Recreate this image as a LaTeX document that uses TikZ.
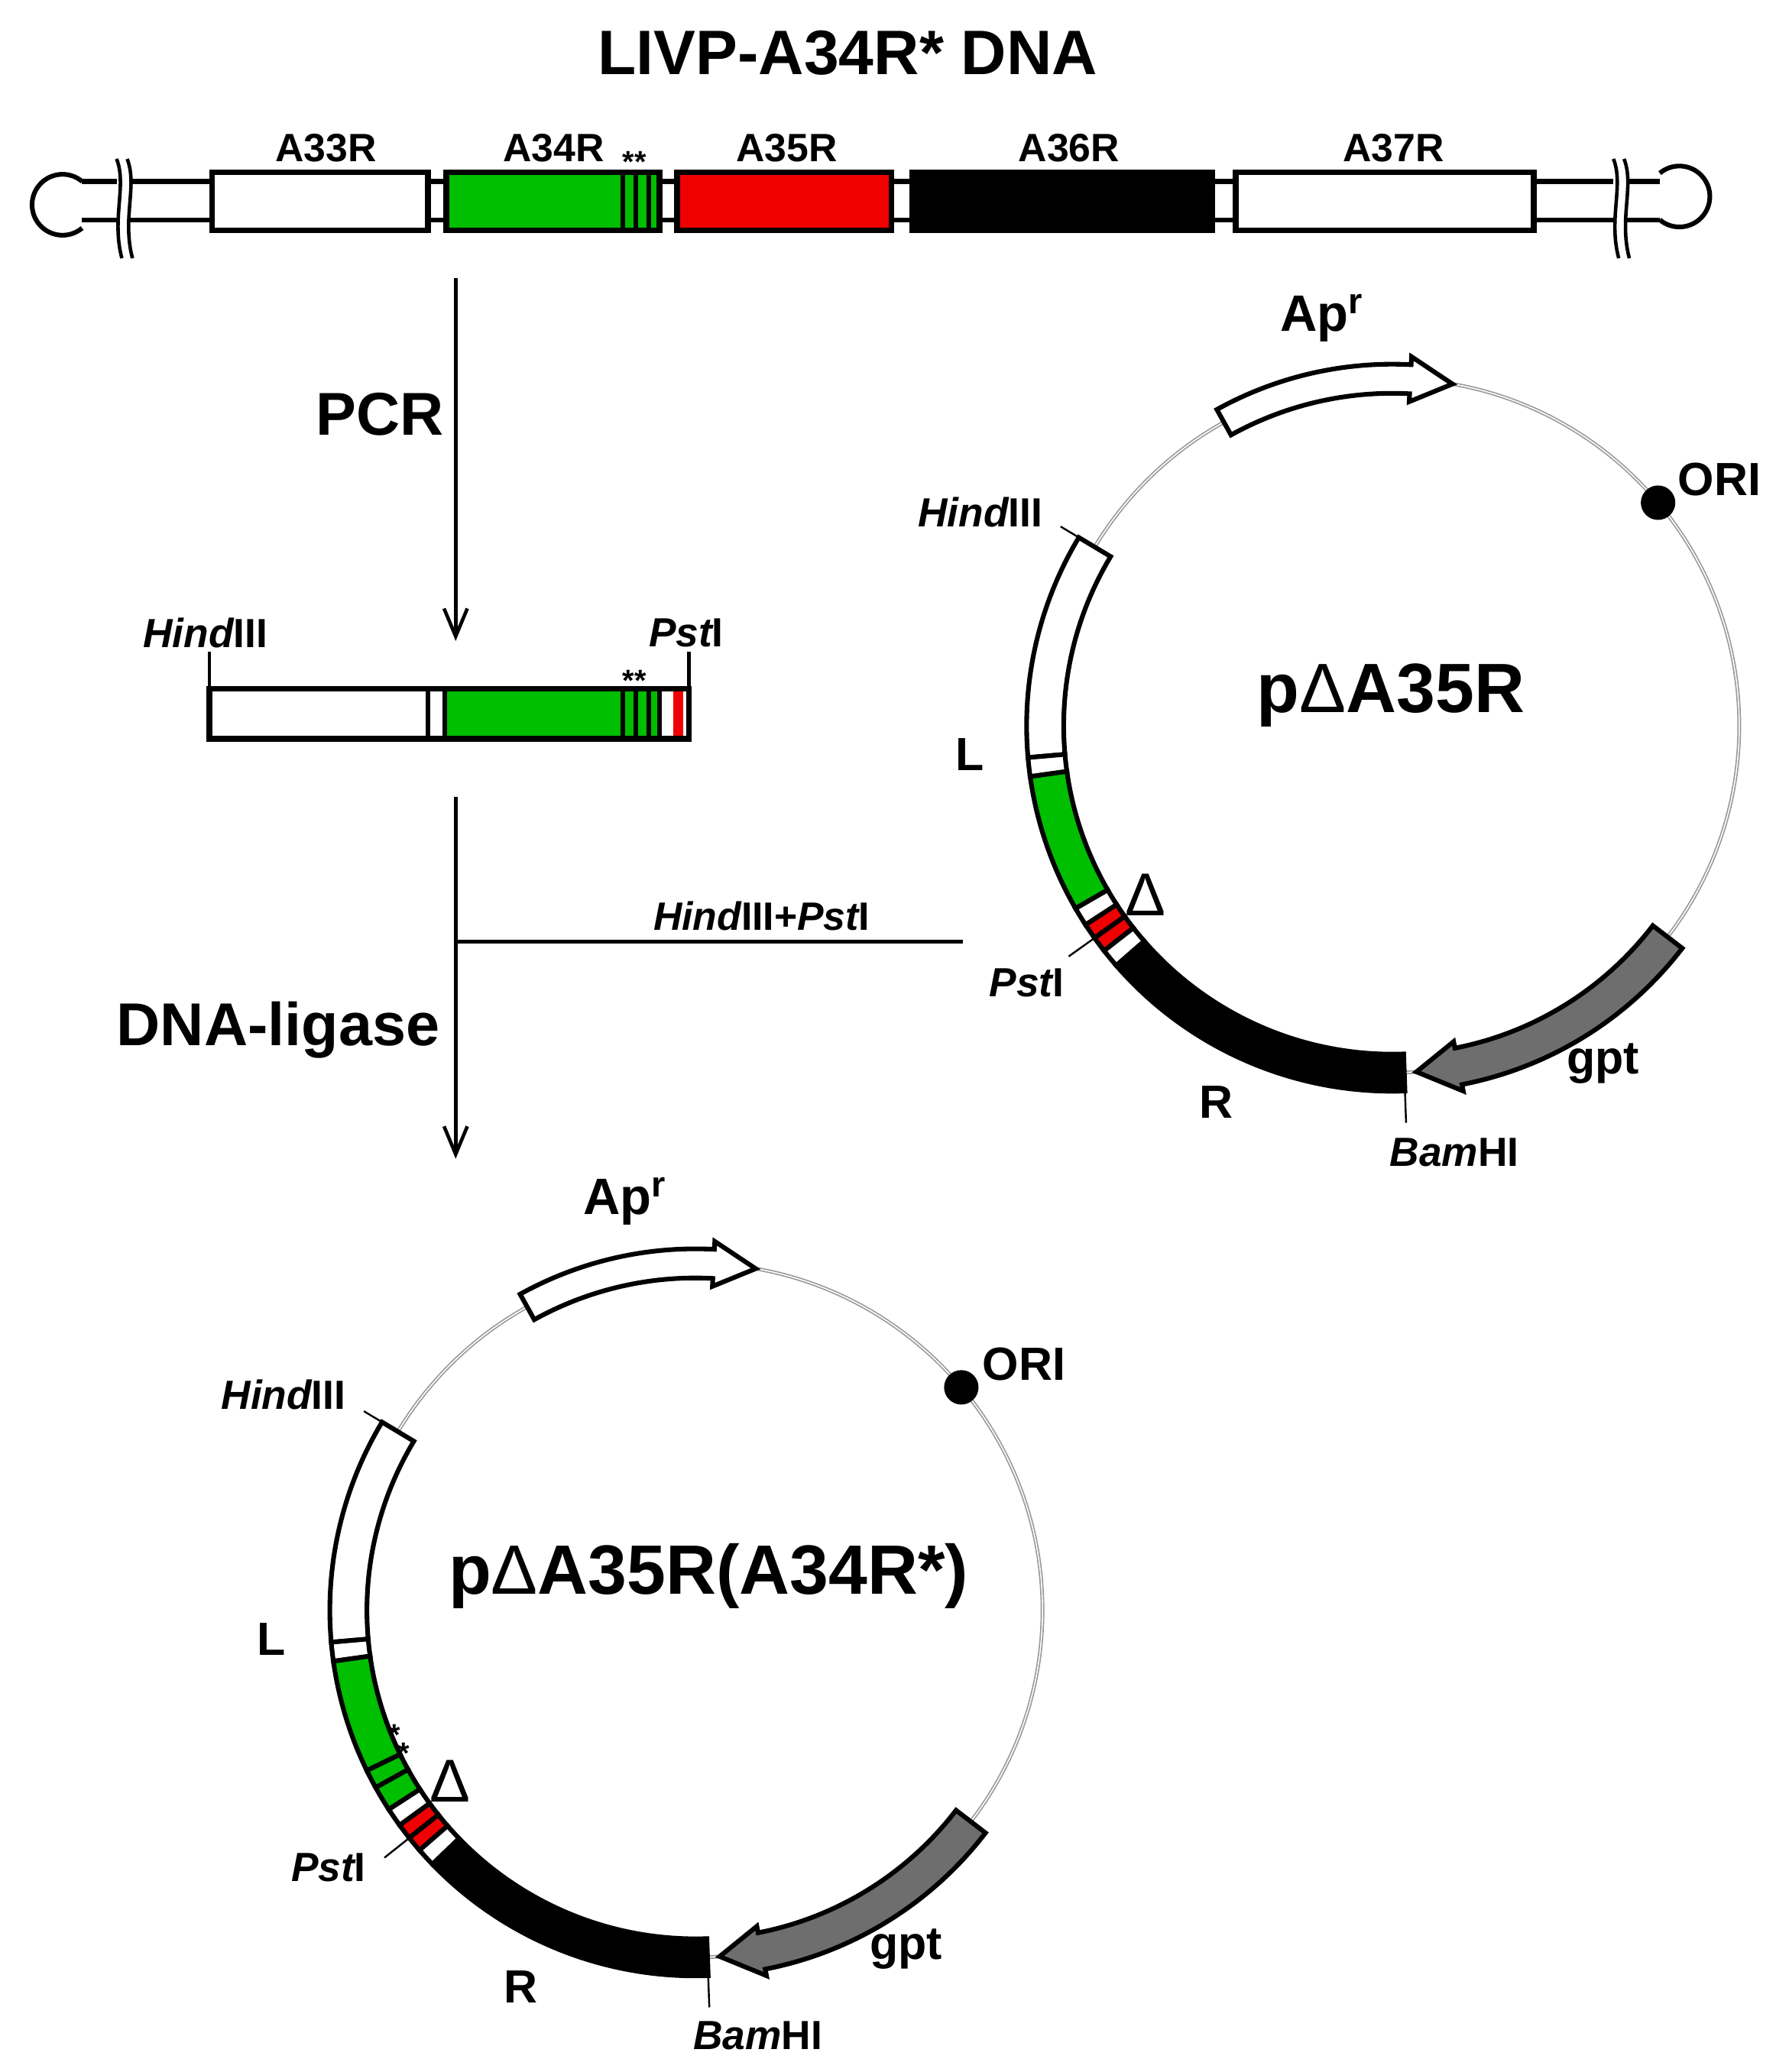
\documentclass[tikz,border=0pt]{standalone}
\usepackage{fontspec}
\usetikzlibrary{arrows.meta}
\setmainfont{Liberation Sans}
\definecolor{gGreen}{RGB}{0,190,0}
\definecolor{gRed}{RGB}{240,0,0}
\definecolor{gGray}{RGB}{110,110,110}
\newcommand{\fs}[1]{\fontsize{#1}{#1}\selectfont\bfseries}
\newcommand{\arcband}[5]{\draw[band,#5] (#1:#3) arc[start angle=#1,end angle=#2,radius=#3] -- (#2:#4) arc[start angle=#2,end angle=#1,radius=#4] -- cycle;}
\newcommand{\plasmidbase}{%
  \draw[gray!80,line width=1.6pt] (0,0) circle[radius=262];
  \draw[white,line width=0.5pt] (0,0) circle[radius=262];
  % Apr arrow
  \draw[band,fill=white] (119:251) arc[start angle=119,end angle=87,radius=251] -- (87:245) -- (80:262) -- (87:279) -- (87:273) arc[start angle=87,end angle=119,radius=273] -- cycle;
  % gpt arrow
  \draw[band,fill=gGray] (322.5:248) arc[start angle=322.5,end angle=281,radius=248] -- (281:243) -- (274:262) -- (281:281) -- (281:276) arc[start angle=281,end angle=322.5,radius=276] -- cycle;
  % ORI
  \fill (40:262) circle[radius=13];
  % L region
  \arcband{149}{185}{248}{276}{fill=white}
  \arcband{185}{188}{248}{276}{fill=white}
  \draw[thick] (149:276) -- (149:292);
  \draw[thick] (272:262) -- (272:300);
}
\tikzset{band/.style={draw=black,line width=2pt,line join=miter}}
\begin{document}
\begin{tikzpicture}[x=0.02cm,y=-0.02cm]
\useasboundingbox (0,0) rectangle (1350,1564.6);
\fill[white] (0,0) rectangle (1350,1564.6);
% ---------- title
\node (title) at (640,40) {\fs{27}LIVP-A34R* DNA};
% ---------- linear map
\draw[line width=2pt] (62,137) -- (160,137) (62,166) -- (160,166);
\draw[line width=2pt] (1158,137) -- (1253,137) (1158,166) -- (1253,166);
\foreach \a/\b in {323/337,498/511,673/689,915/933}{\draw[line width=2pt] (\a,137) -- (\b,137) (\a,166) -- (\b,166);}
\draw[line width=2pt] (62,137) arc[start angle=-50,end angle=-310,radius=23];
\draw[line width=2pt] (1253,166) arc[start angle=130,end angle=-130,radius=23];
\foreach \x in {92,1222}{
  \fill[white] (\x-4,125) rectangle (\x+6,180);
  \draw[line width=1.5pt] (\x-4,120) .. controls (\x+4,140) and (\x-8,165) .. (\x,195);
  \draw[line width=1.5pt] (\x+4,120) .. controls (\x+12,140) and (\x,165) .. (\x+8,195);
}
\draw[line width=2.5pt,fill=white] (160,130) rectangle (323,174);
\draw[line width=2.5pt,fill=gGreen] (337,130) rectangle (498,174);
\foreach \x in {470,480,490}{\draw[line width=2pt] (\x,130) -- (\x,174);}
\draw[line width=2.5pt,fill=gRed] (511,130) rectangle (673,174);
\draw[line width=2.5pt,fill=black] (689,130) rectangle (915,174);
\draw[line width=2.5pt,fill=white] (933,130) rectangle (1158,174);
\node (a33) at (246,112) {\fs{17}A33R};
\node (a34) at (418,112) {\fs{17}A34R};
\node (st1) at (479,122) {\fs{13}**};
\node (a35) at (594,112) {\fs{17}A35R};
\node (a36) at (807,112) {\fs{17}A36R};
\node (a37) at (1052,112) {\fs{17}A37R};
% ---------- PCR step
\coordinate (p1) at (344,210);
\coordinate (p2) at (344,484);
\draw[line width=1.5pt,-{Straight Barb[length=12pt,width=10pt]}] (p1) -- (p2);
\node (pcr) at (287,313) {\fs{26}PCR};
% fragment
\draw[line width=2.5pt,fill=white] (158,520) rectangle (520,558);
\draw[line width=2pt] (323,520) -- (323,558);
\fill[gGreen] (336,521) rectangle (496,557);
\draw[line width=2pt] (336,520) -- (336,558);
\foreach \x in {470,480,490,498}{\draw[line width=2pt] (\x,520) -- (\x,558);}
\fill[gRed] (508,521) rectangle (516,557);
\draw[line width=2.5pt] (158,520) rectangle (520,558);
\draw[line width=1.5pt] (158,520) -- (158,492);
\draw[line width=1.5pt] (520,520) -- (520,492);
\node (h1) at (155,478) {\fs{17.5}\itshape Hind\upshape III};
\node (ps1) at (518,478) {\fs{17.5}\itshape Pst\upshape I};
\node (st2) at (479,514) {\fs{13}**};
% ---------- ligation step
\coordinate (q1) at (344,602);
\coordinate (q2) at (344,875);
\coordinate (q3) at (727,711);
\coordinate (qm) at (344,711);
\draw[line width=1.5pt,-{Straight Barb[length=12pt,width=10pt]}] (q1) -- (q2);
\draw[line width=1.5pt] (qm) -- (q3);
\node (hp) at (575,692) {\fs{17}\itshape Hind\upshape III+\itshape Pst\upshape I};
\node (lig) at (210,778) {\fs{26}DNA-ligase};
% ---------- plasmid 1
\begin{scope}[shift={(1051,548)},yscale=-1]
\plasmidbase
\arcband{188}{210}{248}{276}{fill=gGreen}
\arcband{210}{213}{248}{276}{fill=white}
\arcband{213}{215.5}{248}{276}{fill=gRed}
\arcband{215.5}{218}{248}{276}{fill=gRed}
\arcband{218}{221}{248}{276}{fill=white}
\arcband{221}{272}{248}{276}{fill=black}
\draw[thick] (215.5:262) -- (215.5:300);
\end{scope}
\node (apr1) at (998,240) {\fs{22}Ap\textsuperscript{r}};
\node (ori1) at (1298,362) {\fs{20}ORI};
\node (hd1) at (740,387) {\fs{17.5}\itshape Hind\upshape III};
\node (name1) at (1050,525) {\fs{30}p\mdseries Δ\bfseries A35R};
\node (L1) at (732,570) {\fs{20}L};
\node (D1) at (865,676) {\fontsize{26}{26}\selectfont Δ};
\node (ps2) at (775,742) {\fs{17.5}\itshape Pst\upshape I};
\node (R1) at (918,832) {\fs{20}R};
\node (gpt1) at (1210,803) {\fs{20}gpt};
\node (bh1) at (1098,870) {\fs{17.5}\itshape Bam\upshape HI};
% ---------- plasmid 2
\begin{scope}[shift={(525,1216)},yscale=-1]
\plasmidbase
\arcband{188}{206}{248}{276}{fill=gGreen}
\arcband{206}{209}{248}{276}{fill=gGreen}
\arcband{209}{213}{248}{276}{fill=gGreen}
\arcband{213}{216}{248}{276}{fill=white}
\arcband{216}{218.5}{248}{276}{fill=gRed}
\arcband{218.5}{221}{248}{276}{fill=gRed}
\arcband{221}{224}{248}{276}{fill=white}
\arcband{224}{272}{248}{276}{fill=black}
\draw[thick] (218.5:262) -- (218.5:300);
\end{scope}
\node (apr2) at (472,907) {\fs{22}Ap\textsuperscript{r}};
\node (ori2) at (773,1030) {\fs{20}ORI};
\node (hd2) at (214,1053) {\fs{17.5}\itshape Hind\upshape III};
\node (name2) at (535,1190) {\fs{30}p\mdseries Δ\bfseries A35R(A34R*)};
\node (L2) at (205,1238) {\fs{20}L};
\node (sa) at (298,1310) {\fs{13}*};
\node (sb) at (305,1324) {\fs{13}*};
\node (D2) at (340,1345) {\fontsize{26}{26}\selectfont Δ};
\node (ps3) at (248,1410) {\fs{17.5}\itshape Pst\upshape I};
\node (R2) at (393,1500) {\fs{20}R};
\node (gpt2) at (684,1472) {\fs{20}gpt};
\node (bh2) at (572,1537) {\fs{17.5}\itshape Bam\upshape HI};
\end{tikzpicture}
\end{document}
